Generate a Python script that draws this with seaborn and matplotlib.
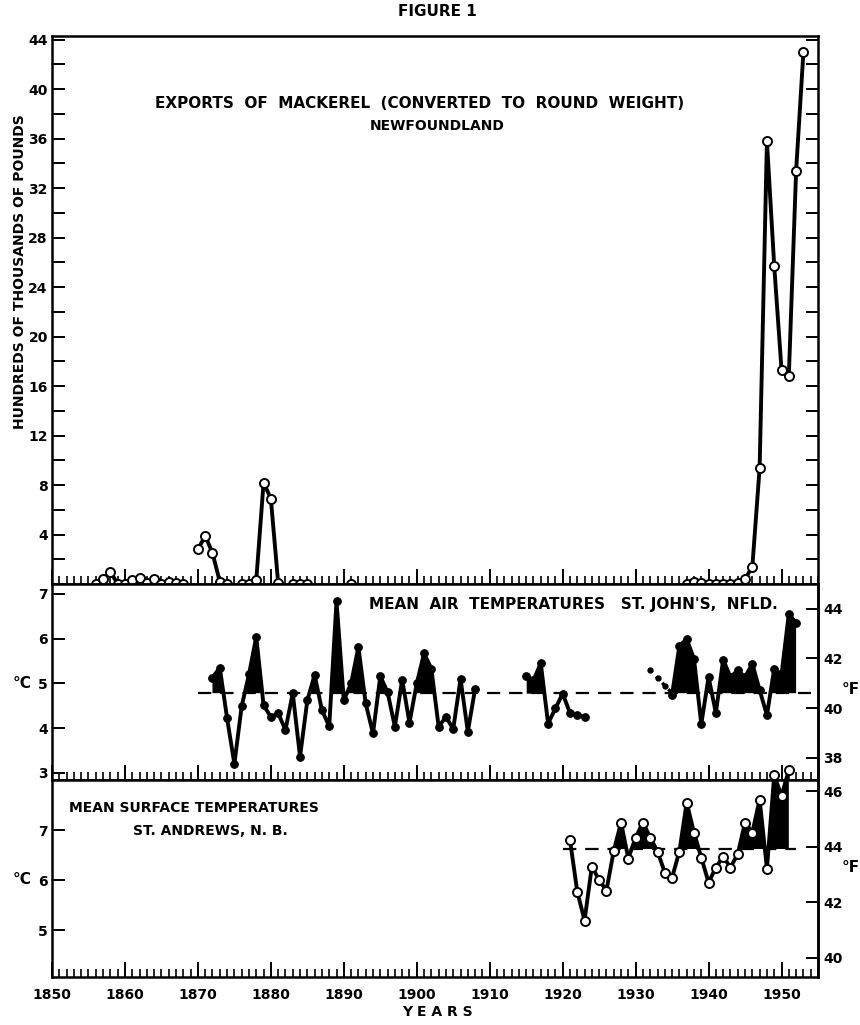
import numpy as np
import pandas as pd
import matplotlib
matplotlib.use("Agg")
import matplotlib.pyplot as plt
from matplotlib.ticker import MultipleLocator, FixedLocator
import seaborn as sns

sns.set_theme(style="ticks")
plt.rcParams['font.family'] = ['DejaVu Sans']
plt.rcParams['font.weight'] = 'bold'
plt.rcParams['text.color'] = 'black'
plt.rcParams['axes.labelcolor'] = 'black'
plt.rcParams['xtick.color'] = 'black'
plt.rcParams['ytick.color'] = 'black'
plt.rcParams['axes.edgecolor'] = 'black'

# exports of mackerel, Newfoundland (hundreds of thousands of pounds)
exp_years = [1856, 1857, 1858, 1859, 1860, 1861, 1862, 1863, 1864, 1865, 1866, 1867, 1868,
             1870, 1871, 1872, 1873, 1874,
             1876, 1877, 1878, 1879, 1880, 1881,
             1883, 1884, 1885,
             1891,
             1937, 1938, 1939, 1940, 1941, 1942, 1943, 1944, 1945, 1946, 1947,
             1948, 1949, 1950, 1951, 1952, 1953]
exp_vals = [0, 0.4, 1.0, 0, 0, 0.3, 0.5, 0.1, 0.4, 0, 0.2, 0.05, 0,
            2.8, 3.9, 2.5, 0.2, 0,
            0, 0, 0.3, 8.2, 6.9, 0.1,
            0, 0, 0,
            0,
            0, 0.2, 0.1, 0, 0, 0, 0, 0.1, 0.4, 1.4, 9.4,
            35.8, 25.7, 17.3, 16.8, 33.4, 43.0]
exp_seg = [1] * 13 + [2] * 5 + [3] * 6 + [4] * 3 + [5] + [6] * 17

# mean air temperatures, St. John's (deg C)
air_years_a = list(range(1872, 1909))
air_vals_a = [5.13, 5.35, 4.22, 3.2, 4.49, 5.2, 6.04, 4.51, 4.25, 4.33,
              3.96, 4.78, 3.36, 4.62, 5.19, 4.4, 4.04, 6.84, 4.62, 5.0,
              5.81, 4.55, 3.88, 5.16, 4.8, 4.03, 5.08, 4.12, 5.0, 5.67,
              5.33, 4.03, 4.25, 3.98, 5.1, 3.92, 4.88]
air_years_b = list(range(1915, 1924))
air_vals_b = [5.16, 5.07, 5.45, 4.1, 4.44, 4.77, 4.34, 4.3, 4.24]
air_years_c = [1932, 1933, 1934, 1935]
air_vals_c = [5.3, 5.12, 4.95, 4.78]
air_years_d = list(range(1935, 1953))
air_vals_d = [4.75, 5.84, 5.99, 5.55, 4.09, 5.14, 4.34, 5.53, 5.14, 5.29,
              5.14, 5.44, 4.85, 4.29, 5.33, 5.2, 6.55, 6.35]
air_mean = 4.78

# mean surface temperatures, St. Andrews (deg C)
sea_years = list(range(1921, 1952))
sea_vals = [6.8, 5.77, 5.19, 6.27, 6.0, 5.79, 6.58, 7.15, 6.43, 6.85,
            7.15, 6.85, 6.57, 6.15, 6.05, 6.57, 7.55, 6.95, 6.45, 5.95,
            6.25, 6.47, 6.25, 6.52, 7.15, 6.95, 7.61, 6.23, 8.1, 7.68, 8.2]
sea_mean = 6.62

exp_df = pd.DataFrame({'year': exp_years, 'value': exp_vals, 'seg': exp_seg})
air_df = pd.DataFrame({'year': air_years_a + air_years_b + air_years_d,
                       'value': air_vals_a + air_vals_b + air_vals_d,
                       'seg': [1] * len(air_years_a) + [2] * len(air_years_b) + [3] * len(air_years_d)})
sea_df = pd.DataFrame({'year': sea_years, 'value': sea_vals})

W, H = 860, 1025
fig = plt.figure(figsize=(W / 100, H / 100), dpi=100)


def box(x0, y0, x1, y1):
    return [x0 / W, 1 - y1 / H, (x1 - x0) / W, (y1 - y0) / H]


ax1 = fig.add_axes(box(52, 36, 818, 584))
ax2 = fig.add_axes(box(52, 584, 818, 780), sharex=ax1)
ax3 = fig.add_axes(box(52, 780, 818, 977), sharex=ax1)

lw = 2.8
# exports
sns.lineplot(data=exp_df, x='year', y='value', units='seg', estimator=None, ax=ax1,
             color='black', lw=lw, marker='o', markersize=6.5, markerfacecolor='white',
             markeredgecolor='black', markeredgewidth=1.4, clip_on=False, legend=False)
ax1.set_ylim(0, 44.3)
ax1.yaxis.set_major_locator(FixedLocator(list(range(4, 45, 4))))
ax1.yaxis.set_minor_locator(MultipleLocator(2))
ax1.set_ylabel('HUNDREDS OF THOUSANDS OF POUNDS', fontsize=10, fontweight='bold')
ax1.yaxis.set_label_coords(-0.033, 0.57)

# air temps
for yrs, vals in [(air_years_a, air_vals_a), (air_years_b, air_vals_b), (air_years_d, air_vals_d)]:
    y = np.array(vals)
    ax2.fill_between(yrs, air_mean, y, where=y >= air_mean, interpolate=True, color='black', lw=0)
sns.lineplot(data=air_df, x='year', y='value', units='seg', estimator=None, ax=ax2,
             color='black', lw=lw, marker='o', markersize=5.5, markerfacecolor='black',
             markeredgecolor='black', legend=False)
ax2.plot(air_years_c, air_vals_c, color='black', lw=2.4, ls=':', marker='o', markersize=3.5)
ax2.plot([1870, 1954], [air_mean, air_mean], color='black', lw=1.6, dashes=(6, 4))
ax2.set_ylim(2.84, 7.22)
ax2.yaxis.set_major_locator(FixedLocator([3, 4, 5, 6, 7]))

# surface temps
y = np.array(sea_vals)
ax3.fill_between(sea_years, sea_mean, y, where=y >= sea_mean, interpolate=True, color='black', lw=0)
ax3.plot([1920, 1952], [sea_mean, sea_mean], color='black', lw=1.6, dashes=(6, 4))
sns.lineplot(data=sea_df, x='year', y='value', estimator=None, ax=ax3,
             color='black', lw=lw, marker='o', markersize=6.5, markerfacecolor='white',
             markeredgecolor='black', markeredgewidth=1.4, clip_on=False, legend=False)
ax3.set_ylim(4.06, 8.0)
ax3.yaxis.set_major_locator(FixedLocator([5, 6, 7]))

c2f = (lambda c: c * 9 / 5 + 32, lambda f: (f - 32) * 5 / 9)
sec2 = ax2.secondary_yaxis('right', functions=c2f)
sec2.yaxis.set_major_locator(FixedLocator([38, 40, 42, 44]))
sec3 = ax3.secondary_yaxis('right', functions=c2f)
sec3.yaxis.set_major_locator(FixedLocator([40, 42, 44, 46]))

ax1.set_xlim(1850, 1955)
ax3.xaxis.set_major_locator(MultipleLocator(10))
ax3.xaxis.set_minor_locator(MultipleLocator(1))

for ax in (ax1, ax2, ax3):
    for s in ax.spines.values():
        s.set_linewidth(1.8)
        s.set_color('black')
    ax.set_xlabel('')
    if ax is not ax1:
        ax.set_ylabel('')
    ax.tick_params(axis='x', which='major', direction='in', length=11, width=1.4,
                   top=False, bottom=True, labelsize=10, color='black', pad=8)
    ax.tick_params(axis='x', which='minor', direction='in', length=6, width=1.2,
                   top=False, bottom=True, color='black')
    ax.tick_params(axis='y', which='both', direction='in', length=9, width=1.4,
                   left=True, right=(ax is ax1), labelsize=10, color='black', pad=3)
    ax.grid(False)
ax1.tick_params(axis='x', labelbottom=False)
ax2.tick_params(axis='x', labelbottom=False)
for sec in (sec2, sec3):
    sec.tick_params(direction='in', length=9, width=1.4, labelsize=10, color='black', pad=4)
    sec.spines['right'].set_linewidth(1.8)
    for lab in sec.get_yticklabels():
        lab.set_fontweight('bold')
for lab in ax3.get_xticklabels():
    lab.set_fontweight('bold')


def txt(x, y, s, **kw):
    kw.setdefault('fontsize', 10)
    kw.setdefault('fontweight', 'bold')
    fig.text(x / W, 1 - y / H, s, ha='center', va='center', **kw)


txt(437, 12, 'FIGURE 1', fontsize=11)
txt(420, 103, 'EXPORTS  OF  MACKEREL  (CONVERTED  TO  ROUND  WEIGHT)', fontsize=11)
txt(437, 126, 'NEWFOUNDLAND', fontsize=10)
txt(573, 605, "MEAN  AIR  TEMPERATURES   ST. JOHN'S,  NFLD.", fontsize=11)
txt(194, 808, 'MEAN SURFACE TEMPERATURES', fontsize=10)
txt(210, 831, 'ST. ANDREWS, N. B.', fontsize=10)
txt(437, 1012, 'Y E A R S', fontsize=10)
txt(22, 683, '°C', fontsize=11)
txt(22, 880, '°C', fontsize=11)
txt(851, 690, '°F', fontsize=11)
txt(851, 868, '°F', fontsize=11)

fig.savefig('out.png', dpi=100)
